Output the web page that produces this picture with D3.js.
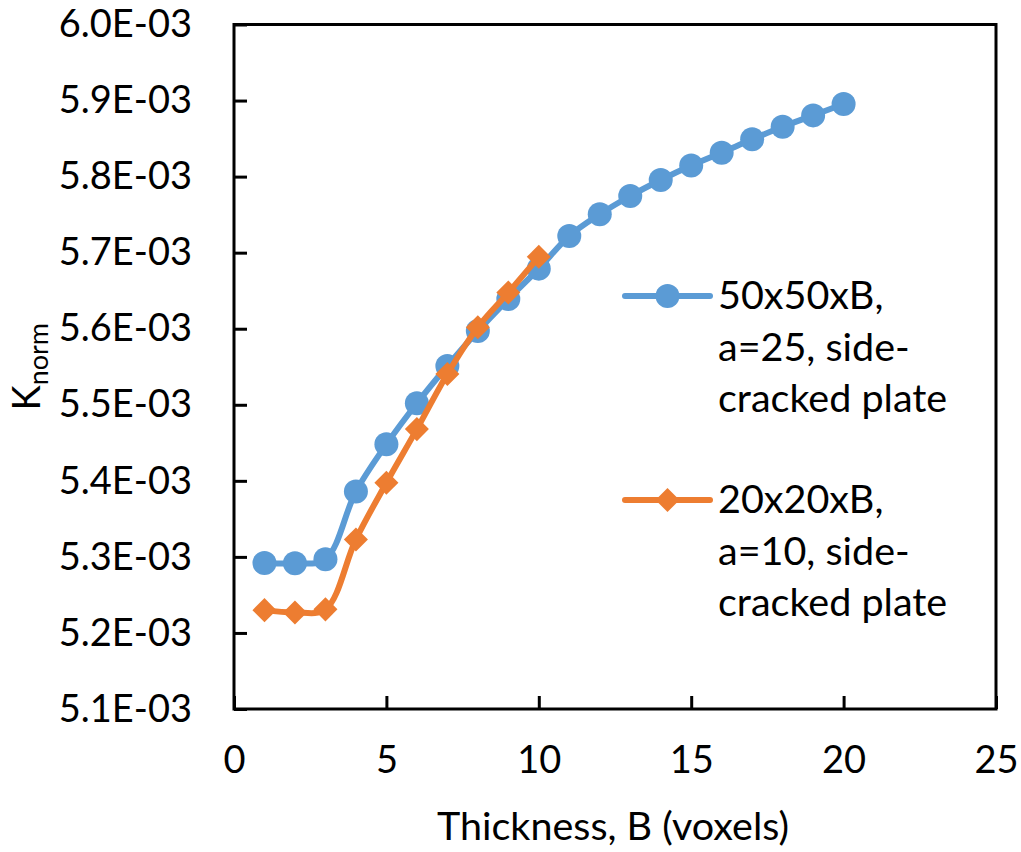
<!DOCTYPE html>
<html>
<head>
<meta charset="utf-8">
<script src="https://cdn.jsdelivr.net/npm/d3@7"></script>
<style>
  html, body { margin: 0; padding: 0; background: #fff; }
  svg text { font-family: Lato, "Open Sans", sans-serif; fill: #000; }
</style>
</head>
<body>
<svg id="chart" width="1021" height="852"></svg>
<script>
// ---- data ----
const thicknessA = [1,2,3,4,5,6,7,8,9,10,11,12,13,14,15,16,17,18,19,20];
const knormA = [5.292e-3,5.2915e-3,5.297e-3,5.386e-3,5.448e-3,5.502e-3,5.551e-3,5.597e-3,5.639e-3,5.679e-3,
                5.722e-3,5.7505e-3,5.7745e-3,5.7955e-3,5.8145e-3,5.8315e-3,5.849e-3,5.8655e-3,5.8805e-3,5.8955e-3];
const thicknessB = [1,2,3,4,5,6,7,8,9,10];
const knormB = [5.230e-3,5.227e-3,5.231e-3,5.323e-3,5.3975e-3,5.468e-3,5.5405e-3,5.602e-3,5.6475e-3,5.6945e-3];

const seriesNames = [
  ["50x50xB,", "a=25, side-", "cracked plate"],
  ["20x20xB,", "a=10, side-", "cracked plate"]
];
const seriesColors = ["#5B9BD5", "#ED7D31"];

const xTicks = [0,5,10,15,20,25];
const xTickLabels = ["0","5","10","15","20","25"];
const yTicks = [5.1e-3,5.2e-3,5.3e-3,5.4e-3,5.5e-3,5.6e-3,5.7e-3,5.8e-3,5.9e-3,6.0e-3];
const yTickLabels = ["5.1E-03","5.2E-03","5.3E-03","5.4E-03","5.5E-03","5.6E-03","5.7E-03","5.8E-03","5.9E-03","6.0E-03"];
const xTitle = "Thickness, B (voxels)";

// ---- layout ----
const pLeft = 234, pRight = 996, pTop = 24.5, pBottom = 709;
const svg = d3.select("#chart");

const x = d3.scaleLinear().domain([0,25]).range([pLeft, pRight]);
const y = d3.scaleLinear().domain([5.1e-3, 6.0e-3]).range([pBottom, pTop]);

// plot box
svg.append("rect")
  .attr("x", pLeft).attr("y", pTop)
  .attr("width", pRight-pLeft).attr("height", pBottom-pTop)
  .attr("fill", "none").attr("stroke", "#000").attr("stroke-width", 3);

// axes
const xAxis = d3.axisBottom(x).tickValues(xTicks)
  .tickFormat((d,i) => xTickLabels[i]).tickSizeInner(-13).tickSizeOuter(0).tickPadding(37);
const gx = svg.append("g").attr("transform", `translate(0,${pBottom})`).call(xAxis);
const yAxis = d3.axisLeft(y).tickValues(yTicks)
  .tickFormat((d,i) => yTickLabels[i]).tickSizeInner(-13).tickSizeOuter(0).tickPadding(42);
const gy = svg.append("g").attr("transform", `translate(${pLeft},0)`).call(yAxis);

[gx, gy].forEach(g => {
  g.select(".domain").remove();
  g.selectAll(".tick line").attr("stroke", "#000").attr("stroke-width", 3);
  g.selectAll(".tick text").style("font-family", "Lato, sans-serif").style("font-size", "38px").attr("fill", "#000");
});

// axis titles
svg.append("text")
  .attr("x", (pLeft+pRight)/2 - 2).attr("y", 840)
  .attr("text-anchor", "middle").style("font-size", "39.5px")
  .text(xTitle);

const yt = svg.append("text")
  .attr("transform", `translate(40,${(pTop+pBottom)/2}) rotate(-90)`)
  .attr("text-anchor", "middle").style("font-size", "38px");
yt.append("tspan").text("K");
yt.append("tspan").attr("dy", 8).style("font-size", "27px").text("norm");

// series
const curve = d3.curveCatmullRom.alpha(0.5);
const dataA = thicknessA.map((t,i) => [t, knormA[i]]);
const dataB = thicknessB.map((t,i) => [t, knormB[i]]);
const line = d3.line().x(d => x(d[0])).y(d => y(d[1])).curve(curve);

svg.append("path").datum(dataA).attr("d", line)
  .attr("fill", "none").attr("stroke", seriesColors[0]).attr("stroke-width", 6).attr("stroke-linejoin", "round");
svg.append("g").selectAll("circle").data(dataA).join("circle")
  .attr("cx", d => x(d[0])).attr("cy", d => y(d[1])).attr("r", 12).attr("fill", seriesColors[0]);

svg.append("path").datum(dataB).attr("d", line)
  .attr("fill", "none").attr("stroke", seriesColors[1]).attr("stroke-width", 6).attr("stroke-linejoin", "round");
const diamondPath = d3.symbol().type(d3.symbolSquare).size(17*17)();
svg.append("g").selectAll("path").data(dataB).join("path")
  .attr("transform", d => `translate(${x(d[0])},${y(d[1])}) rotate(45)`)
  .attr("d", diamondPath)
  .attr("fill", seriesColors[1]);

// legend
const legendY = [296, 500];
const lg = svg.append("g");
seriesNames.forEach((lines, i) => {
  const g = lg.append("g");
  g.append("line").attr("x1", 625).attr("x2", 710)
    .attr("y1", legendY[i]).attr("y2", legendY[i])
    .attr("stroke", seriesColors[i]).attr("stroke-width", 6).attr("stroke-linecap", "round");
  if (i === 0) {
    g.append("circle").attr("cx", 667.5).attr("cy", legendY[i]).attr("r", 12).attr("fill", seriesColors[i]);
  } else {
    g.append("path").attr("transform", `translate(667.5,${legendY[i]}) rotate(45)`)
      .attr("d", diamondPath).attr("fill", seriesColors[i]);
  }
  const t = g.append("text").attr("x", 718).attr("y", legendY[i] + 13).style("font-size", "39.5px");
  lines.forEach((s, j) => {
    t.append("tspan").attr("x", 718).attr("dy", j === 0 ? 0 : 51.5).text(s);
  });
});
</script>
</body>
</html>
